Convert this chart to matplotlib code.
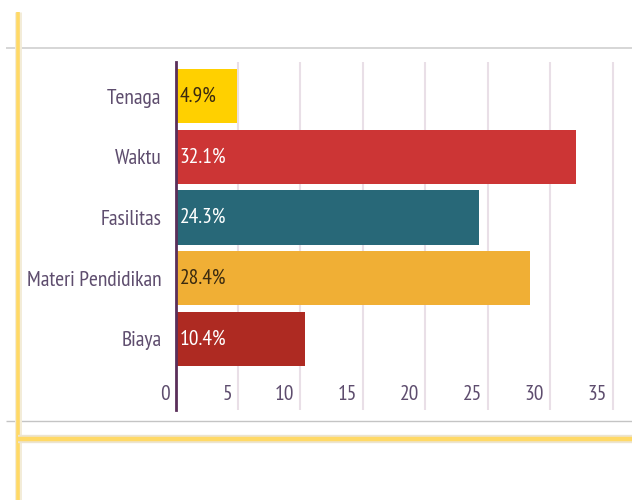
import numpy as np
import matplotlib.pyplot as plt
import matplotlib.transforms as mtransforms
from matplotlib.lines import Line2D

# Data (top to bottom as shown)
categories = ['Tenaga', 'Waktu', 'Fasilitas', 'Materi Pendidikan', 'Biaya']
values = [4.9, 32.1, 24.3, 28.4, 10.4]
bar_colors = ['#FFD000', '#CC3535', '#286878', '#F0AF35', '#AE2A22']
label_colors = ['#3a2a10', '#ffffff', '#ffffff', '#3a2a10', '#ffffff']
xticks = [0, 5, 10, 15, 20, 25, 30, 35]

plt.rcParams['font.family'] = ['PT Sans Narrow', 'DejaVu Sans']
text_col = '#5e4d6e'
fs = 15.5

fig = plt.figure(figsize=(6.32, 5.0), dpi=100)
W, H = 632, 500

# Page decoration lines (figure pixel coords -> fraction)
def hline(y, x0, x1, color, lw):
    fig.add_artist(Line2D([x0 / W, x1 / W], [1 - y / H, 1 - y / H], color=color, lw=lw,
                          transform=fig.transFigure, solid_capstyle='butt'))

def vline(x, y0, y1, color, lw):
    fig.add_artist(Line2D([x / W, x / W], [1 - y0 / H, 1 - y1 / H], color=color, lw=lw,
                          transform=fig.transFigure, solid_capstyle='butt'))

hline(48, 6, 632, '#d0d0d0', 1.2)
hline(421, 6, 632, '#c4c4c4', 1.0)
vline(18, 12, 500, '#f3ecd8', 5)
vline(18, 12, 500, '#ffd966', 2.6)
hline(439, 18, 632, '#ece4d0', 6)
hline(438.5, 18, 632, '#ffd966', 3.2)

ax = fig.add_axes([175.5 / W, 1 - 410 / H, (630 - 175.5) / W, (410 - 62) / H])

y = np.arange(len(categories))[::-1]
ax.barh(y, values, height=0.89, color=bar_colors, zorder=3)

for yi, v, c in zip(y, values, label_colors):
    ax.text(0.35, yi, f'{v}%', va='center', ha='left', color=c, fontsize=fs, zorder=4)

ax.set_xlim(0, 36.4)
ax.set_ylim(-1.17, len(categories) - 1 + 0.56)

ax.set_yticks(y)
ax.set_yticklabels(categories, fontsize=fs, color=text_col)
ax.tick_params(axis='y', length=0, pad=10)

ax.set_xticks(xticks)
ax.set_xticklabels([str(t) for t in xticks], fontsize=fs, color=text_col)
ax.tick_params(axis='x', length=0, pad=-18)
offset = mtransforms.ScaledTranslation(-6 / 100, 0, fig.dpi_scale_trans)
for lab in ax.get_xticklabels():
    lab.set_horizontalalignment('right')
    lab.set_transform(lab.get_transform() + offset)

ax.grid(axis='x', color='#e9dfe7', lw=1.5, zorder=0)
ax.grid(axis='y', visible=False)
for s in ['top', 'right', 'bottom']:
    ax.spines[s].set_visible(False)
ax.spines['left'].set_color('#5a2f5a')
ax.spines['left'].set_linewidth(2)
ax.spines['left'].set_zorder(5)

fig.savefig('out.png', dpi=100)
